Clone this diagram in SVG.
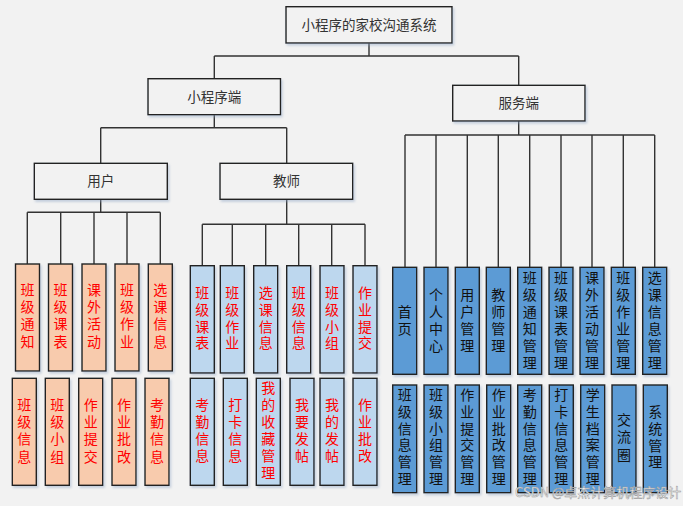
<svg xmlns="http://www.w3.org/2000/svg" width="683" height="506" viewBox="0 0 683 506">
<defs>
<filter id="sh" x="-20%" y="-20%" width="150%" height="150%">
<feDropShadow dx="1.5" dy="2" stdDeviation="1.2" flood-color="#8fa6c4" flood-opacity="0.45"/>
</filter>
<style>
text{font-family:"Noto Sans CJK SC","Liberation Sans",sans-serif;}
.top rect{fill:#f2f2f2;stroke:#222;stroke-width:1.4;filter:url(#sh);}
.top text{font-size:13.5px;fill:#333;text-anchor:middle;}
.u rect{fill:#f8cbad;stroke:#222;stroke-width:1.4;filter:url(#sh);}
.t rect{fill:#bdd7ee;stroke:#222;stroke-width:1.4;filter:url(#sh);}
.s rect{fill:#5b9bd5;stroke:#222;stroke-width:1.4;filter:url(#sh);}
.u text,.t text{font-size:14px;fill:#ff0000;text-anchor:middle;}
.s text{font-size:14px;fill:#111;text-anchor:middle;}
.c path{fill:none;stroke:#333;stroke-width:1.4;}
.wm{font-size:13px;fill:#fff;stroke:#999;stroke-width:0.5;}
</style>
</defs>
<rect width="683" height="506" fill="#f2f2f2"/>
<g class="c">
<path d="M369 43.3V56M214.3 56H518.7M214.3 56V78.7M518.7 56V85.3"/>
<path d="M214.3 114.7V127.7M100.7 127.7H286.7M100.7 127.7V163.3M286.7 127.7V163.3"/>
<path d="M100.7 199.3V212.3M27.3 212.3H160.3M27.3 212.3V264M60.7 212.3V264M94 212.3V264M127 212.3V264M160.3 212.3V264"/>
<path d="M286.7 199.3V224.3M202.3 224.3H365M202.3 224.3V265.7M232.3 224.3V265.7M265.7 224.3V265.7M298.7 224.3V265.7M331.7 224.3V265.7M365 224.3V265.7"/>
<path d="M518.7 121V135M405 135H654.7M405 135V267.3M436 135V267.3M467.3 135V267.3M498.3 135V267.3M529.7 135V267.3M561 135V267.3M592 135V267.3M623.3 135V267.3M654.7 135V267.3"/>
</g>
<g id="root" class="top"><rect x="286" y="6.7" width="166" height="36.3"/><text x="369" y="30">小程序的家校沟通系统</text></g>
<g id="miniapp" class="top"><rect x="148" y="78.7" width="132.5" height="36"/><text x="214.3" y="101.5">小程序端</text></g>
<g id="server" class="top"><rect x="452.7" y="85.3" width="132.3" height="35.7"/><text x="518.7" y="108">服务端</text></g>
<g id="user" class="top"><rect x="34.3" y="163.3" width="133" height="36"/><text x="100.7" y="186">用户</text></g>
<g id="teacher" class="top"><rect x="220" y="163.3" width="132.7" height="36"/><text x="286.5" y="186">教师</text></g>

<g id="u1" class="u"><rect x="15.5" y="264" width="24" height="107"/><text x="27.5" y="295"><tspan x="27.5">班</tspan><tspan x="27.5" dy="17.2">级</tspan><tspan x="27.5" dy="17.2">通</tspan><tspan x="27.5" dy="17.2">知</tspan></text></g>
<g id="u2" class="u"><rect x="48.5" y="264" width="24" height="107"/><text x="60.5" y="295"><tspan x="60.5">班</tspan><tspan x="60.5" dy="17.2">级</tspan><tspan x="60.5" dy="17.2">课</tspan><tspan x="60.5" dy="17.2">表</tspan></text></g>
<g id="u3" class="u"><rect x="82" y="264" width="24" height="107"/><text x="94" y="295"><tspan x="94">课</tspan><tspan x="94" dy="17.2">外</tspan><tspan x="94" dy="17.2">活</tspan><tspan x="94" dy="17.2">动</tspan></text></g>
<g id="u4" class="u"><rect x="115" y="264" width="24" height="107"/><text x="127" y="295"><tspan x="127">班</tspan><tspan x="127" dy="17.2">级</tspan><tspan x="127" dy="17.2">作</tspan><tspan x="127" dy="17.2">业</tspan></text></g>
<g id="u5" class="u"><rect x="148.3" y="264" width="24" height="107"/><text x="160.3" y="295"><tspan x="160.3">选</tspan><tspan x="160.3" dy="17.2">课</tspan><tspan x="160.3" dy="17.2">信</tspan><tspan x="160.3" dy="17.2">息</tspan></text></g>
<g id="u6" class="u"><rect x="12.3" y="378.3" width="24" height="107"/><text x="24.3" y="410"><tspan x="24.3">班</tspan><tspan x="24.3" dy="17.2">级</tspan><tspan x="24.3" dy="17.2">信</tspan><tspan x="24.3" dy="17.2">息</tspan></text></g>
<g id="u7" class="u"><rect x="45.3" y="378.3" width="24" height="107"/><text x="57.3" y="410"><tspan x="57.3">班</tspan><tspan x="57.3" dy="17.2">级</tspan><tspan x="57.3" dy="17.2">小</tspan><tspan x="57.3" dy="17.2">组</tspan></text></g>
<g id="u8" class="u"><rect x="78.7" y="378.3" width="24" height="107"/><text x="90.7" y="410"><tspan x="90.7">作</tspan><tspan x="90.7" dy="17.2">业</tspan><tspan x="90.7" dy="17.2">提</tspan><tspan x="90.7" dy="17.2">交</tspan></text></g>
<g id="u9" class="u"><rect x="112" y="378.3" width="24" height="107"/><text x="124" y="410"><tspan x="124">作</tspan><tspan x="124" dy="17.2">业</tspan><tspan x="124" dy="17.2">批</tspan><tspan x="124" dy="17.2">改</tspan></text></g>
<g id="u10" class="u"><rect x="145" y="378.3" width="24" height="107"/><text x="157" y="410"><tspan x="157">考</tspan><tspan x="157" dy="17.2">勤</tspan><tspan x="157" dy="17.2">信</tspan><tspan x="157" dy="17.2">息</tspan></text></g>

<g id="t1" class="t"><rect x="190.3" y="265.7" width="24" height="107.3"/><text x="202.3" y="298"><tspan x="202.3">班</tspan><tspan x="202.3" dy="16.8">级</tspan><tspan x="202.3" dy="16.8">课</tspan><tspan x="202.3" dy="16.8">表</tspan></text></g>
<g id="t2" class="t"><rect x="220.3" y="265.7" width="24" height="107.3"/><text x="232.3" y="298"><tspan x="232.3">班</tspan><tspan x="232.3" dy="16.8">级</tspan><tspan x="232.3" dy="16.8">作</tspan><tspan x="232.3" dy="16.8">业</tspan></text></g>
<g id="t3" class="t"><rect x="253.7" y="265.7" width="24" height="107.3"/><text x="265.7" y="298"><tspan x="265.7">选</tspan><tspan x="265.7" dy="16.8">课</tspan><tspan x="265.7" dy="16.8">信</tspan><tspan x="265.7" dy="16.8">息</tspan></text></g>
<g id="t4" class="t"><rect x="286.7" y="265.7" width="24" height="107.3"/><text x="298.7" y="298"><tspan x="298.7">班</tspan><tspan x="298.7" dy="16.8">级</tspan><tspan x="298.7" dy="16.8">信</tspan><tspan x="298.7" dy="16.8">息</tspan></text></g>
<g id="t5" class="t"><rect x="320" y="265.7" width="24" height="107.3"/><text x="332" y="298"><tspan x="332">班</tspan><tspan x="332" dy="16.8">级</tspan><tspan x="332" dy="16.8">小</tspan><tspan x="332" dy="16.8">组</tspan></text></g>
<g id="t6" class="t"><rect x="353" y="265.7" width="24" height="107.3"/><text x="365" y="298"><tspan x="365">作</tspan><tspan x="365" dy="16.8">业</tspan><tspan x="365" dy="16.8">提</tspan><tspan x="365" dy="16.8">交</tspan></text></g>
<g id="t7" class="t"><rect x="190.3" y="378.3" width="24" height="107"/><text x="202.3" y="410"><tspan x="202.3">考</tspan><tspan x="202.3" dy="17">勤</tspan><tspan x="202.3" dy="17">信</tspan><tspan x="202.3" dy="17">息</tspan></text></g>
<g id="t8" class="t"><rect x="223.3" y="378.3" width="24" height="107"/><text x="235.3" y="410"><tspan x="235.3">打</tspan><tspan x="235.3" dy="17">卡</tspan><tspan x="235.3" dy="17">信</tspan><tspan x="235.3" dy="17">息</tspan></text></g>
<g id="t9" class="t"><rect x="256.3" y="378.3" width="24" height="107"/><text x="268.3" y="393.3"><tspan x="268.3">我</tspan><tspan x="268.3" dy="17">的</tspan><tspan x="268.3" dy="17">收</tspan><tspan x="268.3" dy="17">藏</tspan><tspan x="268.3" dy="17">管</tspan><tspan x="268.3" dy="17">理</tspan></text></g>
<g id="t10" class="t"><rect x="290" y="378.3" width="24" height="107"/><text x="302" y="410"><tspan x="302">我</tspan><tspan x="302" dy="17">要</tspan><tspan x="302" dy="17">发</tspan><tspan x="302" dy="17">帖</tspan></text></g>
<g id="t11" class="t"><rect x="320" y="378.3" width="24" height="107"/><text x="332" y="410"><tspan x="332">我</tspan><tspan x="332" dy="17">的</tspan><tspan x="332" dy="17">发</tspan><tspan x="332" dy="17">帖</tspan></text></g>
<g id="t12" class="t"><rect x="353" y="378.3" width="24" height="107"/><text x="365" y="410"><tspan x="365">作</tspan><tspan x="365" dy="17">业</tspan><tspan x="365" dy="17">批</tspan><tspan x="365" dy="17">改</tspan></text></g>

<g id="s1" class="s"><rect x="392.7" y="267.3" width="24" height="107"/><text x="404.7" y="316.5"><tspan x="404.7">首</tspan><tspan x="404.7" dy="17">页</tspan></text></g>
<g id="s2" class="s"><rect x="424" y="267.3" width="24" height="107"/><text x="436" y="299.5"><tspan x="436">个</tspan><tspan x="436" dy="17">人</tspan><tspan x="436" dy="17">中</tspan><tspan x="436" dy="17">心</tspan></text></g>
<g id="s3" class="s"><rect x="455.3" y="267.3" width="24" height="107"/><text x="467.3" y="299.5"><tspan x="467.3">用</tspan><tspan x="467.3" dy="17">户</tspan><tspan x="467.3" dy="17">管</tspan><tspan x="467.3" dy="17">理</tspan></text></g>
<g id="s4" class="s"><rect x="486.3" y="267.3" width="24" height="107"/><text x="498.3" y="299.5"><tspan x="498.3">教</tspan><tspan x="498.3" dy="17">师</tspan><tspan x="498.3" dy="17">管</tspan><tspan x="498.3" dy="17">理</tspan></text></g>
<g id="s5" class="s"><rect x="517.7" y="267.3" width="24" height="107"/><text x="529.7" y="282.5"><tspan x="529.7">班</tspan><tspan x="529.7" dy="17">级</tspan><tspan x="529.7" dy="17">通</tspan><tspan x="529.7" dy="17">知</tspan><tspan x="529.7" dy="17">管</tspan><tspan x="529.7" dy="17">理</tspan></text></g>
<g id="s6" class="s"><rect x="549" y="267.3" width="24" height="107"/><text x="561" y="282.5"><tspan x="561">班</tspan><tspan x="561" dy="17">级</tspan><tspan x="561" dy="17">课</tspan><tspan x="561" dy="17">表</tspan><tspan x="561" dy="17">管</tspan><tspan x="561" dy="17">理</tspan></text></g>
<g id="s7" class="s"><rect x="580" y="267.3" width="24" height="107"/><text x="592" y="282.5"><tspan x="592">课</tspan><tspan x="592" dy="17">外</tspan><tspan x="592" dy="17">活</tspan><tspan x="592" dy="17">动</tspan><tspan x="592" dy="17">管</tspan><tspan x="592" dy="17">理</tspan></text></g>
<g id="s8" class="s"><rect x="611.3" y="267.3" width="24" height="107"/><text x="623.3" y="282.5"><tspan x="623.3">班</tspan><tspan x="623.3" dy="17">级</tspan><tspan x="623.3" dy="17">作</tspan><tspan x="623.3" dy="17">业</tspan><tspan x="623.3" dy="17">管</tspan><tspan x="623.3" dy="17">理</tspan></text></g>
<g id="s9" class="s"><rect x="642.7" y="267.3" width="24" height="107"/><text x="654.7" y="282.5"><tspan x="654.7">选</tspan><tspan x="654.7" dy="17">课</tspan><tspan x="654.7" dy="17">信</tspan><tspan x="654.7" dy="17">息</tspan><tspan x="654.7" dy="17">管</tspan><tspan x="654.7" dy="17">理</tspan></text></g>
<g id="s10" class="s"><rect x="392.7" y="385" width="24" height="107.7"/><text x="404.7" y="400"><tspan x="404.7">班</tspan><tspan x="404.7" dy="16.8">级</tspan><tspan x="404.7" dy="16.8">信</tspan><tspan x="404.7" dy="16.8">息</tspan><tspan x="404.7" dy="16.8">管</tspan><tspan x="404.7" dy="16.8">理</tspan></text></g>
<g id="s11" class="s"><rect x="424" y="385" width="24" height="107.7"/><text x="436" y="400"><tspan x="436">班</tspan><tspan x="436" dy="16.8">级</tspan><tspan x="436" dy="16.8">小</tspan><tspan x="436" dy="16.8">组</tspan><tspan x="436" dy="16.8">管</tspan><tspan x="436" dy="16.8">理</tspan></text></g>
<g id="s12" class="s"><rect x="455.3" y="385" width="24" height="107.7"/><text x="467.3" y="400"><tspan x="467.3">作</tspan><tspan x="467.3" dy="16.8">业</tspan><tspan x="467.3" dy="16.8">提</tspan><tspan x="467.3" dy="16.8">交</tspan><tspan x="467.3" dy="16.8">管</tspan><tspan x="467.3" dy="16.8">理</tspan></text></g>
<g id="s13" class="s"><rect x="486.7" y="385" width="24" height="107.7"/><text x="498.7" y="400"><tspan x="498.7">作</tspan><tspan x="498.7" dy="16.8">业</tspan><tspan x="498.7" dy="16.8">批</tspan><tspan x="498.7" dy="16.8">改</tspan><tspan x="498.7" dy="16.8">管</tspan><tspan x="498.7" dy="16.8">理</tspan></text></g>
<g id="s14" class="s"><rect x="517.7" y="385" width="24" height="107.7"/><text x="529.7" y="400"><tspan x="529.7">考</tspan><tspan x="529.7" dy="16.8">勤</tspan><tspan x="529.7" dy="16.8">信</tspan><tspan x="529.7" dy="16.8">息</tspan><tspan x="529.7" dy="16.8">管</tspan><tspan x="529.7" dy="16.8">理</tspan></text></g>
<g id="s15" class="s"><rect x="549.3" y="385" width="24" height="107.7"/><text x="561.3" y="400"><tspan x="561.3">打</tspan><tspan x="561.3" dy="16.8">卡</tspan><tspan x="561.3" dy="16.8">信</tspan><tspan x="561.3" dy="16.8">息</tspan><tspan x="561.3" dy="16.8">管</tspan><tspan x="561.3" dy="16.8">理</tspan></text></g>
<g id="s16" class="s"><rect x="580.7" y="385" width="24" height="107.7"/><text x="592.7" y="400"><tspan x="592.7">学</tspan><tspan x="592.7" dy="16.8">生</tspan><tspan x="592.7" dy="16.8">档</tspan><tspan x="592.7" dy="16.8">案</tspan><tspan x="592.7" dy="16.8">管</tspan><tspan x="592.7" dy="16.8">理</tspan></text></g>
<g id="s17" class="s"><rect x="612" y="385" width="24" height="107.7"/><text x="624" y="425"><tspan x="624">交</tspan><tspan x="624" dy="17.4">流</tspan><tspan x="624" dy="17.4">圈</tspan></text></g>
<g id="s18" class="s"><rect x="643.3" y="385" width="24" height="107.7"/><text x="655.3" y="416.7"><tspan x="655.3">系</tspan><tspan x="655.3" dy="16.9">统</tspan><tspan x="655.3" dy="16.9">管</tspan><tspan x="655.3" dy="16.9">理</tspan></text></g>

<text class="wm" x="515" y="497">CSDN @卓杰计算机程序设计</text>
</svg>
